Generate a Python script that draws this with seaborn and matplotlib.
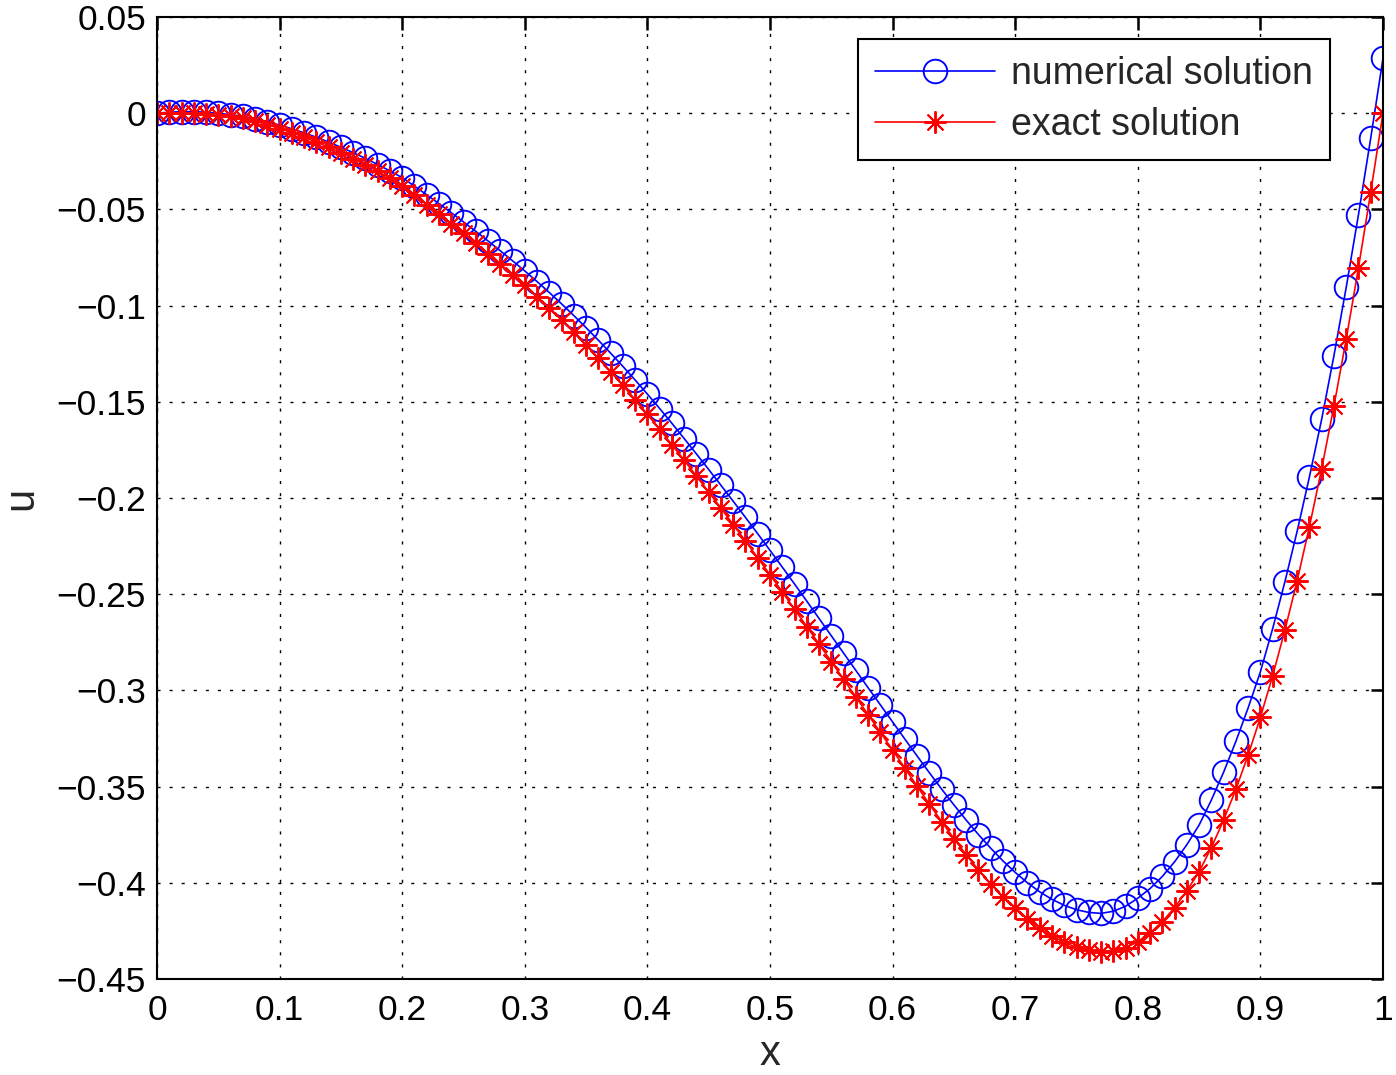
import numpy as np
import pandas as pd
import matplotlib
matplotlib.use("Agg")
import matplotlib.pyplot as plt
import seaborn as sns

# grid points
x = [i / 100 for i in range(101)]

# numerical solution (blue circles)
numerical = [
    0.0000, 0.0005, 0.0008, 0.0008, 0.0005, -0.0001, -0.0007, -0.0016, -0.0028, -0.0044,
    -0.0062, -0.0081, -0.0102, -0.0125, -0.0150, -0.0177, -0.0205, -0.0235, -0.0267, -0.0300,
    -0.0335, -0.0379, -0.0424, -0.0470, -0.0517, -0.0565, -0.0614, -0.0664, -0.0715, -0.0767,
    -0.0820, -0.0875, -0.0932, -0.0991, -0.1052, -0.1115, -0.1180, -0.1247, -0.1316, -0.1387,
    -0.1460, -0.1535, -0.1612, -0.1691, -0.1771, -0.1852, -0.1934, -0.2017, -0.2101, -0.2186,
    -0.2272, -0.2359, -0.2447, -0.2536, -0.2626, -0.2716, -0.2806, -0.2896, -0.2986, -0.3075,
    -0.3164, -0.3253, -0.3341, -0.3428, -0.3513, -0.3595, -0.3674, -0.3749, -0.3820, -0.3886,
    -0.3946, -0.4000, -0.4047, -0.4086, -0.4117, -0.4140, -0.4154, -0.4159, -0.4148, -0.4122,
    -0.4080, -0.4030, -0.3967, -0.3891, -0.3802, -0.3700, -0.3570, -0.3425, -0.3265, -0.3091,
    -0.2903, -0.2679, -0.2435, -0.2172, -0.1890, -0.1590, -0.1260, -0.0905, -0.0527, -0.0129,
    0.0285,
]

# exact solution (red stars)
exact = [
    0.0000, 0.0000, 0.0000, -0.0001, -0.0003, -0.0007, -0.0015, -0.0027, -0.0042, -0.0060,
    -0.0080, -0.0102, -0.0125, -0.0150, -0.0177, -0.0206, -0.0236, -0.0268, -0.0302, -0.0338,
    -0.0380, -0.0427, -0.0475, -0.0524, -0.0574, -0.0625, -0.0677, -0.0730, -0.0784, -0.0839,
    -0.0895, -0.0953, -0.1013, -0.1075, -0.1139, -0.1205, -0.1273, -0.1343, -0.1415, -0.1489,
    -0.1565, -0.1643, -0.1723, -0.1804, -0.1886, -0.1969, -0.2053, -0.2138, -0.2224, -0.2311,
    -0.2399, -0.2488, -0.2578, -0.2668, -0.2759, -0.2850, -0.2942, -0.3034, -0.3126, -0.3218,
    -0.3310, -0.3404, -0.3498, -0.3591, -0.3682, -0.3770, -0.3854, -0.3933, -0.4006, -0.4072,
    -0.4130, -0.4187, -0.4236, -0.4277, -0.4310, -0.4335, -0.4351, -0.4359, -0.4354, -0.4337,
    -0.4307, -0.4262, -0.4202, -0.4129, -0.4042, -0.3942, -0.3817, -0.3674, -0.3514, -0.3336,
    -0.3140, -0.2924, -0.2687, -0.2429, -0.2149, -0.1847, -0.1522, -0.1174, -0.0803, -0.0409,
    0.0000,
]

xticks = [i / 10 for i in range(11)]
xticklabels = ["0", "0.1", "0.2", "0.3", "0.4", "0.5", "0.6", "0.7", "0.8", "0.9", "1"]
yticks = [-0.45, -0.4, -0.35, -0.3, -0.25, -0.2, -0.15, -0.1, -0.05, 0, 0.05]
yticklabels = ["\u22120.45", "\u22120.4", "\u22120.35", "\u22120.3", "\u22120.25", "\u22120.2",
               "\u22120.15", "\u22120.1", "\u22120.05", "0", "0.05"]

df = pd.DataFrame({"x": x, "numerical": numerical, "exact": exact})

sns.set_theme(style="white")
plt.rcParams["font.family"] = ["Liberation Sans", "DejaVu Sans"]

fig = plt.figure(figsize=(13.96, 10.75), dpi=100)
ax = fig.add_axes([157 / 1396, 96 / 1075, 1226 / 1396, 962 / 1075])

sns.lineplot(data=df, x="x", y="numerical", ax=ax, color="blue", lw=1.2,
             marker="o", markersize=17, markerfacecolor="none",
             markeredgecolor="blue", markeredgewidth=1.35, label="numerical solution")
sns.lineplot(data=df, x="x", y="exact", ax=ax, color="red", lw=1.2,
             marker=(8, 2, 0), markersize=16, markeredgecolor="red",
             markeredgewidth=1.4, label="exact solution")

ax.set_xlim(0, 1)
ax.set_ylim(-0.45, 0.05)
ax.set_xticks(xticks)
ax.set_xticklabels(xticklabels)
ax.set_yticks(yticks)
ax.set_yticklabels(yticklabels)
ax.tick_params(direction="in", length=9, width=1.8, labelsize=25.5, colors="black",
               top=True, right=True)
ax.tick_params(axis="x", pad=11)
ax.tick_params(axis="y", pad=8)
ax.grid(True, color="black", linestyle=(0, (2.2, 6.5)), linewidth=1.0)
for s in ax.spines.values():
    s.set_color("black")
    s.set_linewidth(1.5)

ax.set_xlabel("x", fontsize=30, labelpad=5)
ax.set_ylabel("u", fontsize=30, labelpad=11)

leg = ax.legend(loc="upper right", bbox_to_anchor=(0.9568, 0.977), borderaxespad=0,
                fontsize=27, frameon=True, fancybox=False, edgecolor="black",
                framealpha=1, handlelength=3.2, borderpad=0.45, labelspacing=0.4,
                handletextpad=0.43)
leg.get_frame().set_linewidth(1.5)

fig.savefig("out.png", dpi=100)
